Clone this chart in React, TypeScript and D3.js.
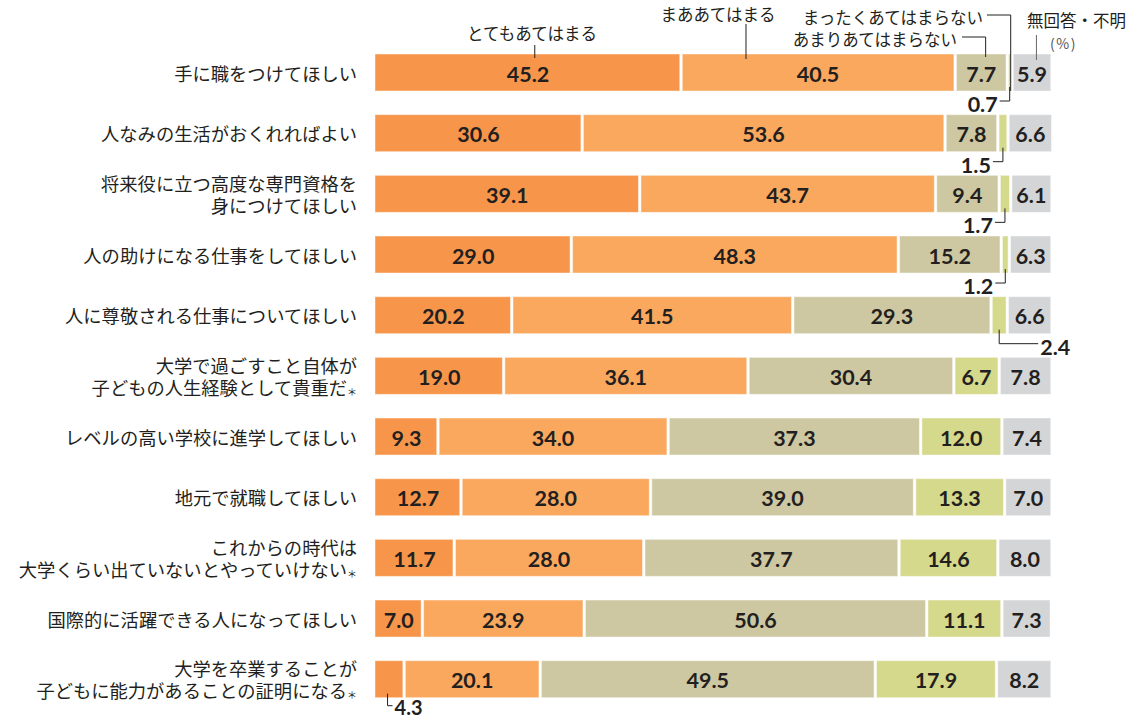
import * as d3 from "d3";

// response categories, in stacking order
const responses = [
  "とてもあてはまる",
  "まああてはまる",
  "あまりあてはまらない",
  "まったくあてはまらない",
  "無回答・不明",
];

// questions, one entry per line of the label ("＊" is drawn small)
const questions: string[][] = [
  ["手に職をつけてほしい"],
  ["人なみの生活がおくれればよい"],
  ["将来役に立つ高度な専門資格を", "身につけてほしい"],
  ["人の助けになる仕事をしてほしい"],
  ["人に尊敬される仕事についてほしい"],
  ["大学で過ごすこと自体が", "子どもの人生経験として貴重だ＊"],
  ["レベルの高い学校に進学してほしい"],
  ["地元で就職してほしい"],
  ["これからの時代は", "大学くらい出ていないとやっていけない＊"],
  ["国際的に活躍できる人になってほしい"],
  ["大学を卒業することが", "子どもに能力があることの証明になる＊"],
];

// % per question, same order as responses
const values: number[][] = [
  [45.2, 40.5, 7.7, 0.7, 5.9],
  [30.6, 53.6, 7.8, 1.5, 6.6],
  [39.1, 43.7, 9.4, 1.7, 6.1],
  [29.0, 48.3, 15.2, 1.2, 6.3],
  [20.2, 41.5, 29.3, 2.4, 6.6],
  [19.0, 36.1, 30.4, 6.7, 7.8],
  [9.3, 34.0, 37.3, 12.0, 7.4],
  [12.7, 28.0, 39.0, 13.3, 7.0],
  [11.7, 28.0, 37.7, 14.6, 8.0],
  [7.0, 23.9, 50.6, 11.1, 7.3],
  [4.3, 20.1, 49.5, 17.9, 8.2],
];

const colors = ["#f7964a", "#f9a85e", "#cec8a2", "#d5d98b", "#d4d5d7"];

// where each legend leader touches the first bar (in % along the bar)
const legendAnchors = [23.6, 54.8, 90.2, 93.9, 97.7];

const W = 1140;
const H = 716;
const INK = "#231f20";
const JP = "'Noto Sans CJK JP', 'Noto Sans', sans-serif";
const NUM = "Lato, 'Open Sans', sans-serif";

export default function App() {
  const x = d3.scaleLinear().domain([0, 100]).range([375, 1052]);
  const y = d3
    .scaleBand<number>()
    .domain(d3.range(questions.length))
    .range([54, 697.7])
    .paddingInner(0.39)
    .paddingOuter(0);
  const bw = y.bandwidth();
  const gap = 1.25;

  const rows = values.map((vals, r) => {
    const cum = d3.cumsum([0, ...vals]);
    return vals.map((v, k) => ({
      r,
      k,
      v,
      x0: x(cum[k]) + (k === 0 ? 0 : gap),
      x1: x(cum[k + 1]) - gap,
      mid: (x(cum[k]) + x(cum[k + 1])) / 2,
    }));
  });

  const top0 = y(0)!;
  const bottom0 = top0 + bw;
  const lx = legendAnchors.map((a) => x(a));

  return (
    <svg
      width={W}
      height={H}
      style={{ position: "absolute", left: 0, top: 0, background: "#fff" }}
    >
      {/* labels on the left */}
      {questions.map((lines, r) => {
        const cy = y(r)! + bw / 2;
        return lines.map((ln, i) => {
          const dy = (i - (lines.length - 1) / 2) * 22.5;
          const star = ln.endsWith("＊");
          const body = star ? ln.slice(0, -1) : ln;
          return (
            <text
              key={`${r}-${i}`}
              x={357}
              y={cy + dy}
              textAnchor="end"
              dominantBaseline="central"
              fontFamily={JP}
              fontSize={18.3}
              fill={INK}
            >
              {body}
              {star && (
                <tspan fontSize={10} dy={4}>
                  ＊
                </tspan>
              )}
            </text>
          );
        });
      })}

      {/* bars */}
      {rows.map((segs, r) => (
        <g key={r}>
          {segs.map((s) => (
            <rect
              key={s.k}
              x={s.x0}
              y={y(r)!}
              width={Math.max(0, s.x1 - s.x0)}
              height={bw}
              fill={colors[s.k]}
              stroke="rgba(255,255,255,0.45)"
              strokeWidth={1}
            />
          ))}
          {segs
            .filter((s) => s.v >= 5)
            .map((s) => (
              <text
                key={`t${s.k}`}
                x={s.mid}
                y={y(r)! + bw / 2 + 1}
                textAnchor="middle"
                dominantBaseline="central"
                fontFamily={NUM}
                fontWeight={700}
                fontSize={21.5}
                fill={INK}
              >
                {s.v.toFixed(1)}
              </text>
            ))}
        </g>
      ))}

      {/* small values outside the bars */}
      {rows.map((segs, r) =>
        segs
          .filter((s) => s.v < 5)
          .map((s) => {
            const b = y(r)! + bw;
            const side = s.k === 0 || s.v > 2 ? 1 : -1;
            const len = s.k === 0 ? 5 : side > 0 ? 39 : 10;
            const cx = s.k === 0 ? s.mid - 2 : s.mid;
            const ly = b + (s.k === 0 ? 8 : 10);
            const startY = r === 0 && s.k === 3 ? bottom0 - 4 : b - 4;
            return (
              <g key={`o${r}-${s.k}`}>
                <path
                  d={`M${cx},${startY}V${ly}H${cx + side * len}`}
                  fill="none"
                  stroke={INK}
                  strokeWidth={1}
                />
                <text
                  x={cx + side * (len + 2)}
                  y={b + (s.k === 0 ? 9 : 13)}
                  textAnchor={side > 0 ? "start" : "end"}
                  dominantBaseline="central"
                  fontFamily={NUM}
                  fontWeight={700}
                  fontSize={s.k === 0 ? 20 : 21.5}
                  fill={INK}
                >
                  {s.v.toFixed(1)}
                </text>
              </g>
            );
          })
      )}

      {/* legend */}
      <g fontFamily={JP} fontSize={16.5} fill={INK}>
        <text x={532} y={32.5} textAnchor="middle" dominantBaseline="central">
          {responses[0]}
        </text>
        <text x={718} y={14} textAnchor="middle" dominantBaseline="central">
          {responses[1]}
        </text>
        <text x={957} y={38.5} textAnchor="end" dominantBaseline="central">
          {responses[2]}
        </text>
        <text x={983} y={16.5} textAnchor="end" dominantBaseline="central">
          {responses[3]}
        </text>
        <text x={1027} y={20} dominantBaseline="central">
          {responses[4]}
        </text>
        <text
          x={1050}
          y={43}
          dominantBaseline="central"
          fontSize={14}
          fill="#555"
          letterSpacing={1.5}
        >
          (%)
        </text>
      </g>
      <g fill="none" stroke={INK} strokeWidth={1}>
        <path d={`M${lx[0]},45V${top0 + 4}`} />
        <path d={`M${lx[1]},24V${top0 + 5}`} />
        <path d={`M962,37H${lx[2]}V${top0 + 3}`} />
        <path d={`M987,15H${lx[3]}V${bottom0}`} />
        <path d={`M${lx[4]},35V${top0 + 6}`} stroke="#666" />
      </g>
    </svg>
  );
}
